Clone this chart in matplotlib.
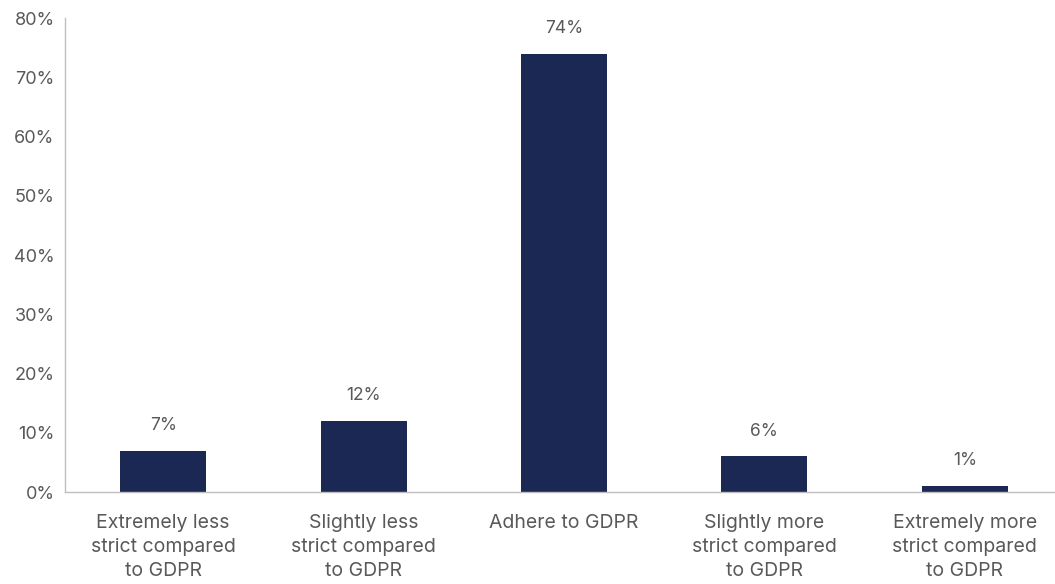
import matplotlib.pyplot as plt
from matplotlib.ticker import FuncFormatter

categories = [
    "Extremely less\nstrict compared\nto GDPR",
    "Slightly less\nstrict compared\nto GDPR",
    "Adhere to GDPR",
    "Slightly more\nstrict compared\nto GDPR",
    "Extremely more\nstrict compared\nto GDPR",
]
shares = [7, 12, 74, 6, 1]
yticks = [0, 10, 20, 30, 40, 50, 60, 70, 80]

plt.rcParams["font.family"] = ["Inter", "DejaVu Sans"]
text_color = "#595959"

fig = plt.figure(figsize=(10.55, 5.84), dpi=100)
ax = fig.add_axes([0.0616, 0.1575, 0.9384, 0.8115])

x = range(len(categories))
bars = ax.bar(x, shares, width=0.43, color="#1c2854")

# value labels above each bar
for b, v in zip(bars, shares):
    ax.annotate(f"{v}%", (b.get_x() + b.get_width() / 2, v),
                xytext=(0, 12), textcoords="offset points",
                ha="center", va="bottom", fontsize=12.5, color=text_color)

ax.set_ylim(0, 80)
ax.set_xlim(-0.49, 4.45)
ax.set_yticks(yticks)
ax.yaxis.set_major_formatter(FuncFormatter(lambda v, _: f"{v:.0f}%"))
ax.set_xticks(list(x))
ax.set_xticklabels(categories, fontsize=14, linespacing=1.45)

ax.tick_params(axis="y", length=0, labelsize=13, colors=text_color, pad=7.5)
ax.tick_params(axis="x", length=0, colors=text_color, pad=15.5)

for side in ["top", "right"]:
    ax.spines[side].set_visible(False)
for side in ["left", "bottom"]:
    ax.spines[side].set_color("#bfbfbf")
    ax.spines[side].set_linewidth(1)

fig.savefig("out.png", dpi=100)
